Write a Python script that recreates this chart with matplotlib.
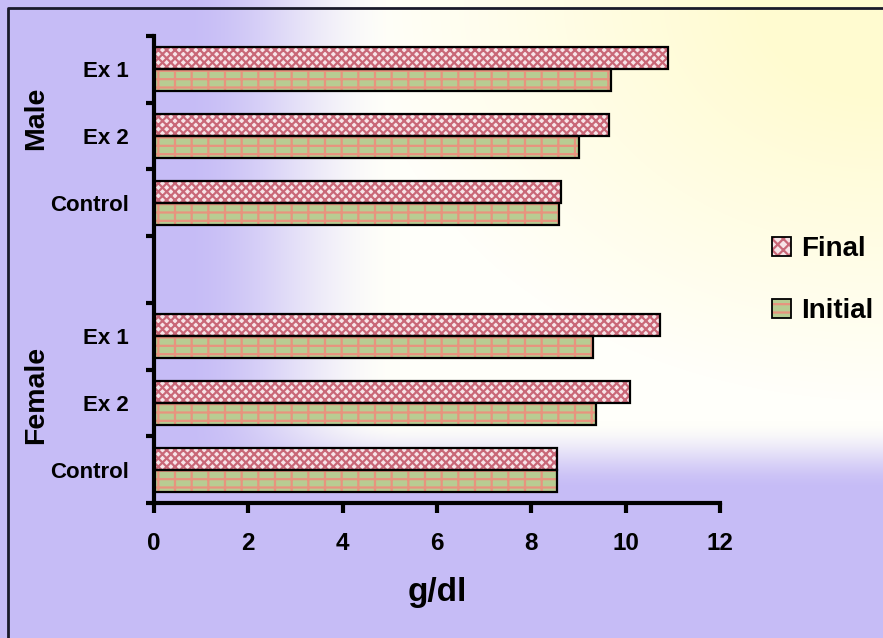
import numpy as np
import matplotlib
matplotlib.use("Agg")
import matplotlib.pyplot as plt
from matplotlib.colors import to_rgb
from matplotlib.patches import Patch
from matplotlib.legend_handler import HandlerTuple

plt.rcParams['font.family'] = ['Liberation Sans', 'DejaVu Sans']
plt.rcParams['font.weight'] = 'bold'
plt.rcParams['hatch.linewidth'] = 1.6

# groups listed bottom to top, with an empty slot between them
groups = ["Female", "Male"]
labels = ["Control", "Ex 2", "Ex 1"]
final_female = [8.55, 10.1, 10.73]
initial_female = [8.55, 9.38, 9.3]
final_male = [8.62, 9.64, 10.9]
initial_male = [8.58, 9.0, 9.68]

final_vals = final_female + [0] + final_male
initial_vals = initial_female + [0] + initial_male
tick_names = labels + [""] + labels

W, H = 883, 638
fig = plt.figure(figsize=(W / 100, H / 100), dpi=100)


def smooth(v, a, b):
    s = np.clip((v - a) / (b - a), 0, 1)
    return s * s * (3 - 2 * s)


# background: lavender at left and bottom, white middle, cream top right
bg = fig.add_axes([0, 0, 1, 1], zorder=-10)
bg.axis("off")
yy, xx = np.mgrid[0:H, 0:W].astype(float)
lav = np.array(to_rgb("#c6bcf6"))
white = np.array(to_rgb("#fffffa"))
cream = np.array(to_rgb("#fffbd0"))
wf = smooth(xx, 180, 400) * smooth(yy, 490, 420)
cf = np.clip(1.3 * (1 - np.sqrt(((xx - W) / 520) ** 2 + (yy / 400) ** 2)), 0, 1)
img = lav * (1 - wf[..., None]) + white * wf[..., None]
img = img * (1 - (cf * wf)[..., None]) + cream * (cf * wf)[..., None]
bg.imshow(img, extent=[0, 1, 0, 1], aspect="auto")
bg.set_xlim(0, 1)
bg.set_ylim(0, 1)
bg.plot([8 / W, 8 / W, 1], [0, 1 - 8 / H, 1 - 8 / H], color="#1a1a2a", lw=2)

ax = fig.add_axes([154 / W, 1 - 503 / H, (720 - 154) / W, (503 - 36) / H])
ax.patch.set_alpha(0)

y = np.arange(len(tick_names))
bh = 0.33
fin_c, fin_h = "#f7e4e8", "#c96878"
ini_c, ini_h = "#b8cc92", "#e8937e"

mask = np.array(final_vals) > 0
for vals, off, fc, hc, hatch in [(final_vals, bh / 2, fin_c, fin_h, "xxxx"),
                                 (initial_vals, -bh / 2, ini_c, ini_h, "--|")]:
    v = np.array(vals)[mask]
    ax.barh(y[mask] + off, v, height=bh, color=fc, edgecolor=hc,
            hatch=hatch, linewidth=0, zorder=2)
    ax.barh(y[mask] + off, v, height=bh, fill=False, edgecolor="black",
            linewidth=1.6, zorder=3)

ax.set_xlim(0, 12)
ax.set_ylim(-0.5, len(tick_names) - 0.5)
ax.set_xticks(range(0, 13, 2))
ax.set_yticks(y)
ax.set_yticklabels(tick_names)
ax.set_yticks(np.arange(-0.5, len(tick_names)), minor=True)
ax.tick_params(axis="y", which="major", length=0, pad=18, labelsize=16)
ax.tick_params(axis="y", which="minor", length=6, width=3, direction="out")
ax.tick_params(axis="x", length=7, width=3, direction="out", pad=14, labelsize=17.5)
for s in ["top", "right"]:
    ax.spines[s].set_visible(False)
for s in ["left", "bottom"]:
    ax.spines[s].set_linewidth(3)

ax.set_xlabel("g/dl", fontsize=24, fontweight="bold", labelpad=16)

for name, yc in zip(groups, [1.12, 5.27]):
    ax.text(-118 / 47.16, yc, name, rotation=90, ha="center", va="center",
            fontsize=20.5)

handles = []
for fc, hc, hatch in [(fin_c, fin_h, "xxx"), (ini_c, ini_h, "--")]:
    handles.append((Patch(facecolor=fc, edgecolor=hc, hatch=hatch, linewidth=0),
                    Patch(fill=False, edgecolor="black", linewidth=1.3)))
fig.legend(handles, ["Final", "Initial"], loc="center left",
           handler_map={tuple: HandlerTuple(ndivide=1)},
           bbox_to_anchor=(772 / W, 1 - 280 / H), frameon=False,
           fontsize=20, handlelength=0.7, handleheight=0.7,
           handletextpad=0.35, labelspacing=1.3, borderpad=0,
           borderaxespad=0)

fig.savefig("out.png", dpi=100)
